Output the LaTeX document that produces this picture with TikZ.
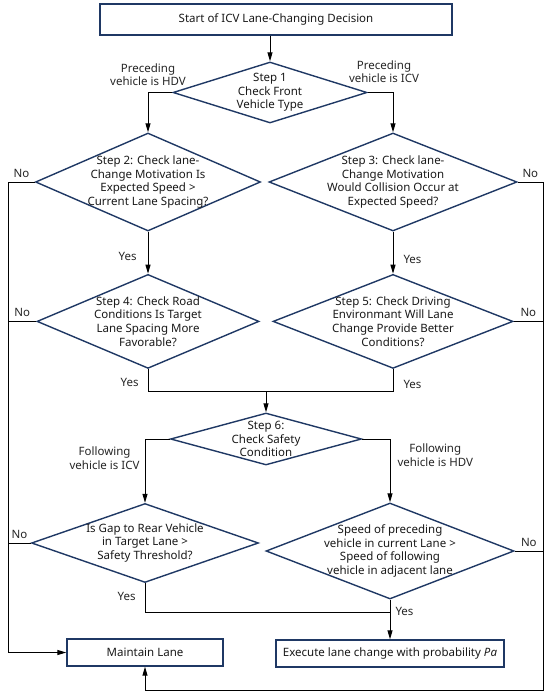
\documentclass[tikz,border=0pt]{standalone}
\usepackage{fontspec}
\setmainfont{Noto Sans}
\usepackage{xcolor}
\usepackage{tikz}
\usetikzlibrary{arrows.meta, positioning, shapes.geometric, calc}
\definecolor{navy}{HTML}{1F3864}
\tikzset{
  bx/.style  ={rectangle, draw=navy, line width=1.4pt, align=center,
               inner sep=2pt, text=black!90},
  dec/.style ={diamond, draw=navy, line width=1.4pt, align=center,
               inner sep=-4pt, text=black!90},
  ar/.style  ={-{Triangle[length=9pt, width=5pt]}, line width=1pt, black},
  ln/.style  ={line width=1pt, black},
  lbl/.style ={align=center, inner sep=1pt, text=black!85}
}

\begin{document}
\begin{tikzpicture}[x=1pt, y=1pt, font=\fontsize{11.5}{13.6}\selectfont]
\useasboundingbox (0,0) rectangle (550,-698);
\node[bx, minimum width=352pt, minimum height=31pt] (start) at (276,-19.5) {Start of ICV Lane-Changing Decision};
\node[dec, minimum width=194pt, minimum height=61pt, aspect=3.18] (step1) at (270,-92.5) {Step 1\\Check Front\\Vehicle Type};
\node[dec, minimum width=225pt, minimum height=98pt, aspect=2.30] (step2) at (148,-182) {Step 2: Check lane-\\Change Motivation Is\\Expected Speed >\\Current Lane Spacing?};
\node[dec, minimum width=248pt, minimum height=98pt, aspect=2.53] (step3) at (393,-182) {Step 3: Check lane-\\Change Motivation\\Would Collision Occur at\\Expected Speed?};
\node[dec, minimum width=222pt, minimum height=94pt, aspect=2.36, below=42pt of step2] (step4) {Step 4: Check Road\\Conditions Is Target\\Lane Spacing More\\Favorable?};
\node[dec, minimum width=240pt, minimum height=94pt, aspect=2.55, below=42pt of step3] (step5) {Step 5: Check Driving\\Environmant Will Lane\\Change Provide Better\\Conditions?};
\node[dec, minimum width=191pt, minimum height=52pt, aspect=3.67] (step6) at (266,-439) {Step 6:\\Check Safety\\Condition};
\node[dec, minimum width=227pt, minimum height=79pt, aspect=2.87] (step7) at (145,-543) {Is Gap to Rear Vehicle\\in Target Lane >\\Safety Threshold?};
\node[dec, minimum width=248pt, minimum height=96pt, aspect=2.58] (step8) at (390,-551) {Speed of preceding\\vehicle in current Lane >\\Speed of following\\vehicle in adjacent lane};
\node[bx, minimum width=156pt, minimum height=27pt] (keep) at (145,-652.5) {Maintain Lane};
\node[bx, minimum width=228pt, minimum height=27pt] (exec) at (390,-653.5) {Execute lane change with probability \textit{Pa}};
\coordinate (lbus) at (8,0);
\coordinate (rbus) at (543,-690);
\coordinate[below=22pt of step4.south] (j1);
\coordinate[below=29pt of step7.south] (j2);
\draw[ar] (start.south -| step1.north) -- (step1.north);
\draw[ar] (step1.west) -| node[lbl, above=5pt, pos=0.5] {Preceding\\vehicle is HDV} (step2.north);
\draw[ar] (step1.east) -| node[lbl, above=8pt, xshift=-9pt, pos=0.5] {Preceding\\vehicle is ICV} (step3.north);
\draw[ar] (step2.south) -- node[lbl, left=10pt, pos=0.6] {Yes} (step4.north);
\draw[ar] (step3.south) -- node[lbl, right=9pt, pos=0.65] {Yes} (step5.north);
\draw[ln] (step2.west) -- node[lbl, above=3pt] {No} (step2.west -| lbus);
\draw[ln] (step3.east) -- node[lbl, above=3pt] {No} (step3.east -| rbus);
\draw[ln] (step4.west) -- node[lbl, above=3pt] {No} (step4.west -| lbus);
\draw[ln] (step5.east) -- node[lbl, above=3pt] {No} (step5.east -| rbus);
\draw[ln] (step4.south) -- node[lbl, left=8pt, pos=0.6] {Yes} (j1) -| node[lbl, right=9pt, pos=0.64] {Yes} (step5.south);
\draw[ar] (j1 -| step6.north) -- (step6.north);
\draw[ar] (step6.west) -| node[lbl, left=4pt, pos=0.65] {Following\\vehicle is ICV} (step7.north);
\draw[ar] (step6.east) -| node[lbl, right=6pt, pos=0.63] {Following\\vehicle is HDV} (step8.north);
\draw[ln] (step7.west) -- node[lbl, above=3pt] {No} (step7.west -| lbus);
\draw[ln] (step8.east) -- node[lbl, above=3pt] {No} (step8.east -| rbus);
\draw[ln] (step7.south) -- node[lbl, left=8pt, pos=0.45] {Yes} (j2) -- (j2 -| step8.south);
\draw[ar] (step8.south) -- node[lbl, right=4pt, pos=0.3] {Yes} (exec.north);
\draw[ar] (step2.west -| lbus) |- (keep.west);
\draw[ar] (step3.east -| rbus) -- (rbus) -| (keep.south);
\end{tikzpicture}
\end{document}
